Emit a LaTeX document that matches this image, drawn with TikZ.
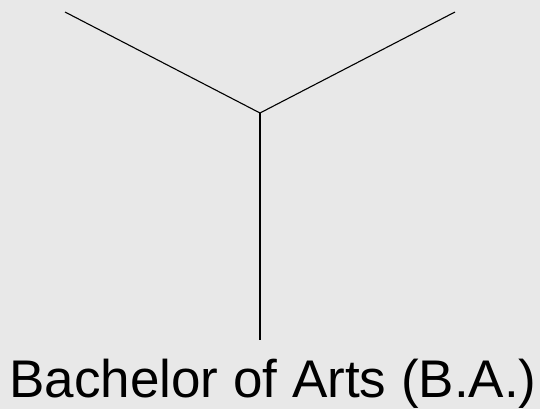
\documentclass[tikz,border=0pt]{standalone}
\usepackage{fontspec}
\setmainfont{Liberation Sans}
\usepackage{tikz}
\usetikzlibrary{positioning}
\usepackage{xcolor}
\definecolor{bggray}{RGB}{232,232,232}

\begin{document}
\begin{tikzpicture}[x=1pt, y=-1pt, line width=1.1pt]
        % Background
        \fill[bggray] (0,0) rectangle (540,409);
        \useasboundingbox (0,0) rectangle (540,409);

        % Branch points
        \coordinate (l) at (65,12);
        \coordinate (r) at (455,12);
        \coordinate (m) at (260,113);
        \coordinate (b) at (260,340);

        % Label
        \node[anchor=base, inner sep=0pt, font=\fontsize{53}{61}\selectfont] (ba) at (273,397) {Bachelor of Arts (B.A.)};

        % Branches
        \draw (l)--(m)--(r);
        \draw (m)--(b);
    \end{tikzpicture}
\end{document}
